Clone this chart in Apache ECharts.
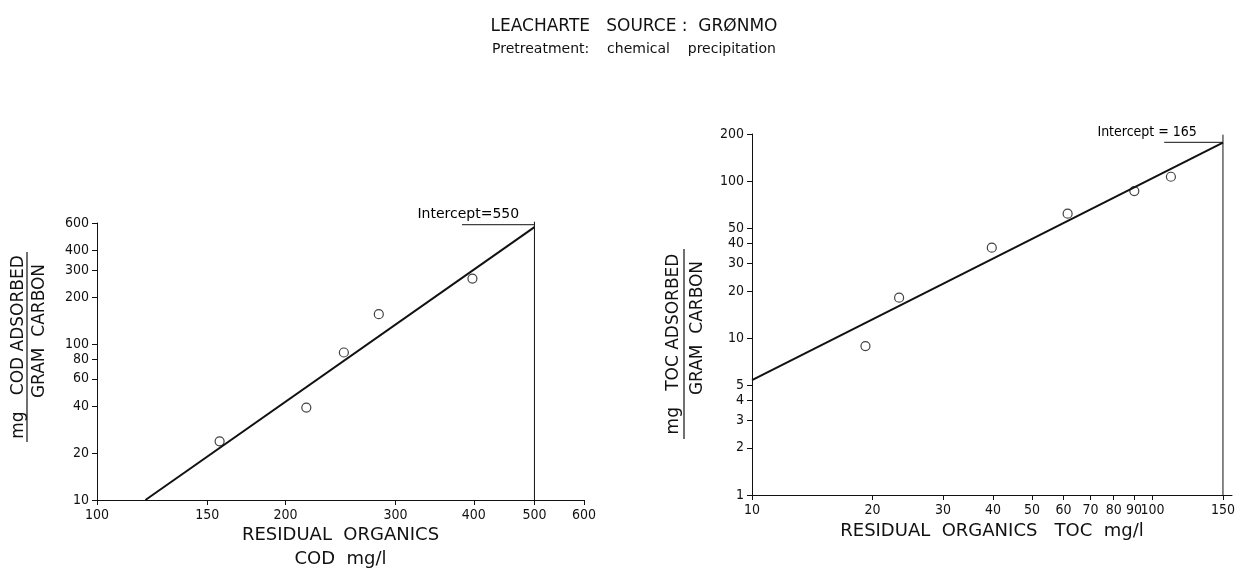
<!DOCTYPE html>
<html>
<head>
<meta charset="utf-8">
<style>
  html, body { margin: 0; padding: 0; background: #fff; }
  #chart { width: 1248px; height: 569px; }
</style>
<script src="https://cdn.jsdelivr.net/npm/echarts@6/dist/echarts.min.js"></script>
</head>
<body>
<div id="chart"></div>
<script>
var chartDom = document.getElementById('chart');
var myChart = echarts.init(chartDom);
var option;

var FONT = '"DejaVu Sans Condensed", "DejaVu Sans", sans-serif';
var WIDE = '"DejaVu Sans", sans-serif';
var INK = '#111';

// left panel: COD
var codTicksX = [100, 150, 200, 300, 400, 500, 600];
var codTicksY = [10, 20, 40, 60, 80, 100, 200, 300, 400, 600];
var codPoints = [[157, 23.8], [216, 39.2], [248, 88.5], [282, 156], [398, 264]];
var codFit = [[119.5, 10], [500, 565]];
var codGuideV = [[500, 10], [500, 612]];
var codGuideH = [[383, 585], [500, 585]];
var codNote = [[392, 585]];

// right panel: TOC
var tocTicksX = [10, 20, 30, 40, 50, 60, 70, 80, 90, 100, 150];
var tocTicksY = [1, 2, 3, 4, 5, 10, 20, 30, 40, 50, 100, 200];
var tocPoints = [[19.2, 8.9], [23.3, 18.1], [39.7, 37.7], [61.4, 62.1], [90.1, 86.6], [111.2, 106.8]];
var tocFit = [[10, 5.4], [150, 176]];
var tocGuideV = [[150, 1], [150, 198]];
var tocGuideH = [[107, 177], [150, 177]];
var tocNote = [[97, 177]];

function logAxis(grid, min, max, ticks, extra) {
    var ax = {
        type: 'log',
        logBase: 10,
        gridIndex: grid,
        min: min,
        max: max,
        axisLine: { show: true, onZero: false, lineStyle: { color: INK, width: 1 } },
        axisTick: { show: true, length: 5, inside: false, customValues: ticks, lineStyle: { color: INK } },
        axisLabel: { customValues: ticks, color: INK, fontSize: 14, fontFamily: FONT, margin: 8 },
        splitLine: { show: false },
        minorTick: { show: false }
    };
    for (var k in extra) ax[k] = extra[k];
    return ax;
}

function lineSeries(x, y, data, width) {
    return {
        type: 'line', xAxisIndex: x, yAxisIndex: y, data: data,
        showSymbol: false, symbol: 'none', clip: false, silent: true,
        lineStyle: { color: INK, width: width }
    };
}

function pointSeries(x, y, data) {
    return {
        type: 'scatter', xAxisIndex: x, yAxisIndex: y, data: data,
        symbol: 'circle', symbolSize: 9,
        itemStyle: { color: '#fff', borderColor: INK, borderWidth: 1.2 }
    };
}

function noteSeries(x, y, data, text, family) {
    return {
        type: 'scatter', xAxisIndex: x, yAxisIndex: y, data: data,
        symbolSize: 0, silent: true, clip: false,
        label: { show: true, position: 'top', distance: 3, formatter: text,
                 color: '#000', opacity: 1, fontSize: 14, fontFamily: family }
    };
}

function yTitle(cx, cy, top, bottom, gap1, gap2) {
    return {
        type: 'group', x: cx, y: cy, rotation: Math.PI / 2,
        children: [
            { type: 'text', x: 0, y: -gap1, style: { text: top, fill: INK, font: '17px ' + WIDE, align: 'center', verticalAlign: 'middle' } },
            { type: 'line', shape: { x1: -95, y1: 0, x2: 95, y2: 0 }, style: { stroke: INK, lineWidth: 1.2 } },
            { type: 'text', x: 16, y: gap2, style: { text: bottom, fill: INK, font: '17px ' + WIDE, align: 'center', verticalAlign: 'middle' } }
        ]
    };
}

option = {
    backgroundColor: '#fff',
    animation: false,
    title: {
        left: 629,
        textAlign: 'center',
        top: 13,
        text: 'LEACHARTE   SOURCE :  GRØNMO',
        subtext: 'Pretreatment:    chemical    precipitation',
        itemGap: 7,
        textStyle: { color: INK, fontSize: 17, fontWeight: 'normal', fontFamily: WIDE },
        subtextStyle: { color: INK, fontSize: 14, fontFamily: WIDE }
    },
    grid: [
        { left: 97, top: 223, width: 487, height: 277, outerBoundsMode: 'none', containLabel: false },
        { left: 752, top: 134, width: 480, height: 361, outerBoundsMode: 'none', containLabel: false }
    ],
    xAxis: [
        logAxis(0, 100, 600, codTicksX, {
            name: 'RESIDUAL  ORGANICS\nCOD  mg/l', nameLocation: 'middle', nameGap: 20,
            nameTextStyle: { color: INK, fontSize: 18, fontFamily: WIDE, lineHeight: 24, verticalAlign: 'top' }
        }),
        logAxis(1, 10, 158, tocTicksX, {
            name: 'RESIDUAL  ORGANICS   TOC  mg/l', nameLocation: 'middle', nameGap: 28,
            nameTextStyle: { color: INK, fontSize: 18, fontFamily: WIDE, verticalAlign: 'middle' }
        })
    ],
    yAxis: [
        logAxis(0, 10, 600, codTicksY, {}),
        logAxis(1, 1, 200, tocTicksY, {})
    ],
    graphic: [
        yTitle(27, 347, 'mg   COD ADSORBED', 'GRAM  CARBON', 8, 13),
        yTitle(684, 344, 'mg   TOC ADSORBED', 'GRAM  CARBON', 10, 14)
    ],
    series: [
        lineSeries(0, 0, codFit, 2),
        lineSeries(0, 0, codGuideV, 1),
        lineSeries(0, 0, codGuideH, 1),
        pointSeries(0, 0, codPoints),
        noteSeries(0, 0, codNote, 'Intercept=550', WIDE),
        lineSeries(1, 1, tocFit, 2),
        lineSeries(1, 1, tocGuideV, 1),
        lineSeries(1, 1, tocGuideH, 1),
        pointSeries(1, 1, tocPoints),
        noteSeries(1, 1, tocNote, 'Intercept = 165', FONT)
    ]
};

option && myChart.setOption(option);
window.addEventListener('resize', function () {
    myChart.resize();
});
</script>
</body>
</html>
